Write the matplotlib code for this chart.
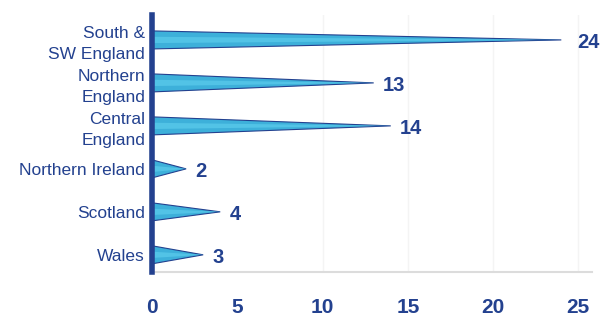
import matplotlib.pyplot as plt
import numpy as np

# data (bottom to top)
regions = ["Wales", "Scotland", "Northern Ireland", "Central\nEngland",
           "Northern\nEngland", "South &\nSW England"]
values = [3, 4, 2, 14, 13, 24]
ticks = [0, 5, 10, 15, 20, 25]

navy = "#23418f"
light = "#3db0da"

fig = plt.figure(figsize=(6.11, 3.21), dpi=100)
ax = fig.add_axes([152 / 611, 1 - 272 / 321, (592 - 152) / 611, (272 - 15) / 321])

half = 0.21
for i, v in enumerate(values):
    # cone-shaped bar: wide at the axis, pointed at the value
    ax.fill([0, v, 0], [i - half, i, i + half], facecolor=light,
            edgecolor=navy, linewidth=0.8, zorder=3)
    ax.fill([0, v, 0], [i - half * 0.35, i, i + half * 0.35],
            facecolor="#52c3e6", edgecolor="none", zorder=4)
    off = 0.95 if v >= 20 else 0.55
    ax.text(v + off, i - 0.07, str(v), va="center", ha="left",
            fontsize=14.5, fontweight="bold", color=navy,
            family="Liberation Sans")

ax.set_xlim(0, 25.8)
ax.set_ylim(-0.4, 5.58)
ax.set_yticks(range(len(regions)))
ax.set_yticklabels(regions, fontsize=12.5, color=navy, family="Liberation Sans",
                   linespacing=1.45)
ax.set_xticks(ticks)
ax.set_xticklabels([str(t) for t in ticks], fontsize=15, fontweight="bold",
                   color=navy, family="Liberation Sans")
ax.tick_params(axis="both", length=0)
ax.tick_params(axis="x", pad=19)
ax.tick_params(axis="y", pad=5)

for x in ticks[2:]:
    ax.axvline(x, color="#f4f4f4", linewidth=1, zorder=0)

ax.spines["top"].set_visible(False)
ax.spines["right"].set_visible(False)
ax.spines["left"].set_color(navy)
ax.spines["left"].set_linewidth(4)
ax.spines["left"].set_zorder(5)
ax.spines["bottom"].set_color("#dcdcdc")
ax.spines["bottom"].set_linewidth(1.5)

fig.savefig("out.png", dpi=100)
